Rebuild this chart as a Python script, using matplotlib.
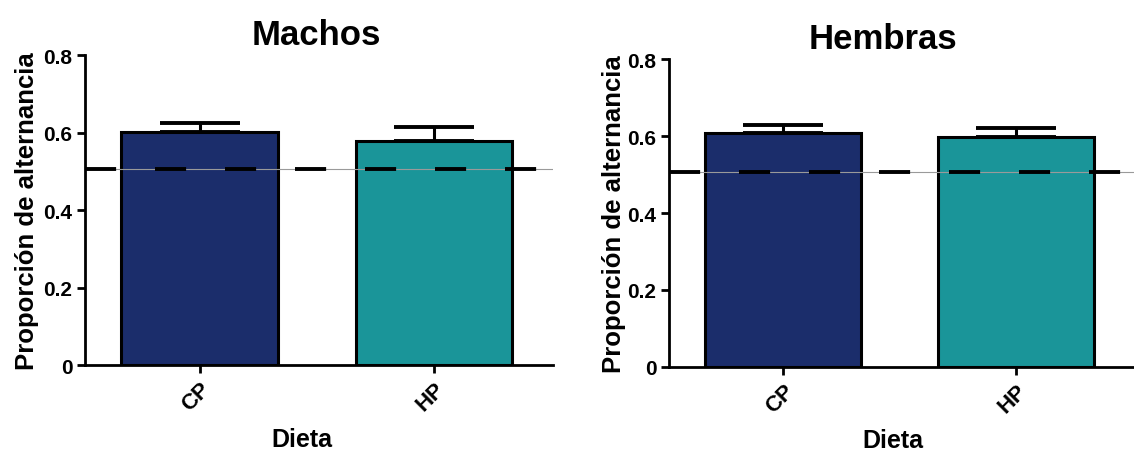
import matplotlib
matplotlib.use("Agg")
import matplotlib.pyplot as plt

# ---- data ----
categories = ["CP", "HP"]
machos_mean = [0.601, 0.577]
machos_sem = [0.024, 0.037]
hembras_mean = [0.607, 0.598]
hembras_sem = [0.022, 0.022]
chance_level = 0.507
titles = ["Machos", "Hembras"]
y_ticks = [0, 0.2, 0.4, 0.6, 0.8]
y_tick_labels = ["0", "0.2", "0.4", "0.6", "0.8"]

bar_colors = ["#1b2d6b", "#1a9599"]

plt.rcParams["font.family"] = ["Liberation Sans", "DejaVu Sans"]
plt.rcParams["font.weight"] = "bold"

fig = plt.figure(figsize=(11.34, 4.52), dpi=100)
ax_left = fig.add_axes([0.075, 0.19, 0.413, 0.686])
ax_right = fig.add_axes([0.590, 0.186, 0.411, 0.681])

# per-panel placement of title / axis labels (axes fractions)
title_x = [0.494, 0.459]
xlabel_pos = [(0.464, -0.20), (0.48, -0.20)]
ylabel_pad = [3, 1]

for i, (ax, means, sems, title) in enumerate(zip([ax_left, ax_right],
                                                 [machos_mean, hembras_mean],
                                                 [machos_sem, hembras_sem], titles)):
    x = list(range(len(categories)))
    ax.bar(x, means, width=0.67, color=bar_colors, edgecolor="black",
           linewidth=2.2, zorder=2)
    # upper error bars only
    ax.errorbar(x, means, yerr=[[0] * len(sems), sems], fmt="none",
                ecolor="black", elinewidth=2.2, capsize=29, capthick=2.8, zorder=3)
    # chance level: thin grey line + thick black dashes
    ax.axhline(chance_level, color="#9a9a9a", linewidth=0.8, zorder=3)
    ax.axhline(chance_level, color="black", linewidth=2.8,
               dashes=(8, 10), zorder=4)

    ax.set_xlim(-0.49, 1.51)
    ax.set_ylim(0, 0.8)
    ax.set_yticks(y_ticks)
    ax.set_yticklabels(y_tick_labels, fontsize=15, fontweight="bold")
    ax.set_xticks(x)
    ax.set_xticklabels(categories, rotation=45, ha="right", va="top",
                       rotation_mode="anchor", fontsize=16, fontweight="bold")
    ax.set_xlabel("Dieta", fontsize=18, fontweight="bold", va="top")
    ax.xaxis.set_label_coords(*xlabel_pos[i])
    ax.set_ylabel("Proporción de alternancia", fontsize=18.5, fontweight="bold",
                  labelpad=ylabel_pad[i])
    ax.set_title(title, fontsize=25, fontweight="bold", pad=8, x=title_x[i])

    for side in ["top", "right"]:
        ax.spines[side].set_visible(False)
    for side in ["left", "bottom"]:
        ax.spines[side].set_linewidth(2)
    ax.tick_params(direction="out", length=6, width=2, pad=3)
    ax.tick_params(axis="x", pad=3)

fig.savefig("out.png", dpi=100)
